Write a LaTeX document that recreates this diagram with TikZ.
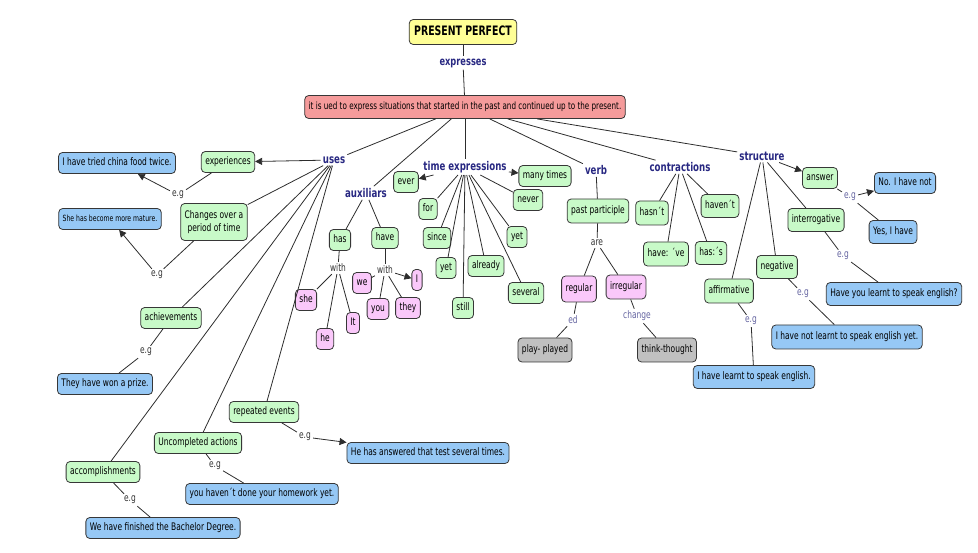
\documentclass[tikz,border=0pt]{standalone}
\usepackage{fontspec}
\setmainfont{DejaVu Sans}[FakeStretch=0.72]
\usetikzlibrary{arrows.meta}
\definecolor{gfill}{RGB}{200,250,200}
\definecolor{bfill}{RGB}{150,200,245}
\definecolor{pfill}{RGB}{250,200,250}
\definecolor{grfill}{RGB}{192,192,192}
\definecolor{rfill}{RGB}{245,155,155}
\definecolor{yfill}{RGB}{255,255,150}
\definecolor{bordercol}{RGB}{55,55,55}
\definecolor{linecol}{RGB}{45,45,45}
\definecolor{navy}{RGB}{40,40,130}
\definecolor{purp}{RGB}{100,100,160}
\begin{document}
\begin{tikzpicture}[x=1pt,y=-1pt,
  box/.style={draw=bordercol, line width=0.8pt, rounded corners=4pt, inner xsep=4pt, inner ysep=0pt,
    minimum height=21pt, font=\fontsize{10.4}{12.5}\selectfont, text height=7.8pt, text depth=2pt},
  g/.style={box, fill=gfill},
  b/.style={box, fill=bfill},
  p/.style={box, fill=pfill},
  gr/.style={box, fill=grfill},
  cl/.style={font=\fontsize{12}{14}\selectfont\bfseries, text=navy, inner sep=2pt},
  ll/.style={font=\fontsize{10.4}{12.5}\selectfont, text=black!80, inner sep=2pt},
  pl/.style={ll, text=purp},
  ln/.style={draw=linecol, line width=0.8pt},
  arr/.style={ln, -{Triangle[length=7pt,width=7pt]}}]
\useasboundingbox (0,0) rectangle (978,553);

% top
\node[box, fill=yfill, font=\fontsize{13}{15}\selectfont\bfseries, minimum height=25pt, inner xsep=5pt, text height=9.5pt] (pp) at (463,32) {PRESENT PERFECT};
\node[cl, font=\fontsize{11.5}{13}\selectfont\bfseries] (expr) at (463,63) {expresses};
\node[box, fill=rfill, font=\fontsize{10}{12}\selectfont, minimum height=23pt] (main) at (465,107) {it is ued to express situations that started in the past and continued up to the present.};

% uses
\node[cl] (uses) at (334,160) {uses};
\node[g] (exp) at (228,162) {experiences};
\node[b] (tried) at (117,163) {I have tried china food twice.};
\node[ll] (eg1) at (178,195) {e.g};
\node[g, align=center, minimum height=37pt, text height=, text depth=] (chg) at (214,222) {Changes over a\\period of time};
\node[b, font=\fontsize{8.5}{10}\selectfont] (mature) at (110,219) {She has become more mature.};
\node[ll] (eg2) at (157,275) {e.g};
\node[g] (ach) at (171,318) {achievements};
\node[ll] (eg3) at (146,352) {e.g};
\node[b] (prize) at (105,384) {They have won a prize.};
\node[g] (rep) at (264,412) {repeated events};
\node[ll] (eg4) at (305,437) {e.g};
\node[b] (ans) at (428,453) {He has answered that test several times.};
\node[g] (unc) at (198,443) {Uncompleted actions};
\node[ll] (eg5) at (215,466) {e.g};
\node[b] (hw) at (262,494) {you haven´t done your homework yet.};
\node[g] (acc) at (103,472) {accomplishments};
\node[ll] (eg6) at (130,500) {e.g};
\node[b] (bach) at (163,528) {We have finished the Bachelor Degree.};

% auxiliars
\node[cl] (aux) at (366,193) {auxiliars};
\node[g] (has) at (340,240) {has};
\node[g] (have) at (385,238) {have};
\node[ll] (w1) at (338,268) {with};
\node[ll] (w2) at (385,270) {with};
\node[p] (she) at (306,300) {she};
\node[p] (he) at (325,339) {he};
\node[p] (it) at (353,323) {It};
\node[p] (we) at (362,283) {we};
\node[p] (you) at (378,309) {you};
\node[p] (they) at (408,308) {they};
\node[p] (I) at (417,280) {I};

% time expressions
\node[cl] (te) at (465,167) {time expressions};
\node[g] (ever) at (406,182) {ever};
\node[g] (many) at (545,176) {many times};
\node[g] (never) at (528,200) {never};
\node[g] (for) at (428,209) {for};
\node[g] (since) at (437,238) {since};
\node[g] (yet1) at (446,268) {yet};
\node[g] (still) at (463,308) {still};
\node[g] (already) at (486,266) {already};
\node[g] (yet2) at (517,237) {yet};
\node[g] (sev) at (526,293) {several};

% verb
\node[cl] (verb) at (596,170) {verb};
\node[g, minimum height=24pt] (ppart) at (598,211) {past participle};
\node[ll] (are) at (597,243) {are};
\node[p, minimum height=26pt] (reg) at (579,289) {regular};
\node[p, minimum height=24pt] (irr) at (626,287) {irregular};
\node[pl] (ed) at (573,320) {ed};
\node[pl] (chgl) at (637,316) {change};
\node[gr, minimum height=24pt] (play) at (545,350) {play- played};
\node[gr, minimum height=24pt] (think) at (667,350) {think-thought};

% contractions
\node[cl] (con) at (680,167) {contractions};
\node[g, minimum height=24pt] (hasnt) at (652,213) {hasn´t};
\node[g, minimum height=23pt] (havent) at (720,206) {haven´t};
\node[g, minimum height=24pt] (havve) at (666,254) {have: ´ve};
\node[g, minimum height=23pt] (hass) at (711,253) {has:´s};

% structure
\node[cl] (str) at (762,156) {structure};
\node[g] (answer) at (820,178) {answer};
\node[pl] (eg7) at (850,197) {e.g};
\node[b] (no) at (905,183) {No. I have not};
\node[b, minimum height=23pt] (yes) at (893,232) {Yes, I have};
\node[g, minimum height=23pt] (inter) at (816,220) {interrogative};
\node[pl] (eg8) at (843,256) {e.g};
\node[b, minimum height=23pt] (q) at (894,294) {Have you learnt to speak english?};
\node[g, minimum height=23pt] (neg) at (777,267) {negative};
\node[pl] (eg9) at (803,294) {e.g};
\node[b, minimum height=24pt] (negs) at (847,337) {I have not learnt to speak english yet.};
\node[g, minimum height=24pt] (aff) at (729,291) {affirmative};
\node[pl] (eg10) at (751,321) {e.g};
\node[b, minimum height=23pt] (affs) at (754,377) {I have learnt to speak english.};

% connectors
\draw[ln] (pp) -- (expr);
\draw[ln] (expr) -- (main);
\foreach \t in {uses,aux,te,verb,con,str} \draw[ln] (main) -- (\t);

\draw[arr] (uses) -- (exp);
\foreach \t in {chg,ach,acc,unc,rep} \draw[ln] (uses) -- (\t);
\draw[ln] (exp) -- (eg1); \draw[arr] (eg1) -- (tried);
\draw[ln] (chg) -- (eg2); \draw[arr] (eg2) -- (mature);
\draw[ln] (ach) -- (eg3); \draw[ln] (eg3) -- (prize);
\draw[ln] (rep) -- (eg4); \draw[arr] (eg4) -- (ans);
\draw[ln] (unc) -- (eg5); \draw[ln] (eg5) -- (hw);
\draw[ln] (acc) -- (eg6); \draw[ln] (eg6) -- (bach);

\draw[ln] (aux) -- (has); \draw[ln] (aux) -- (have);
\draw[ln] (has) -- (w1); \draw[ln] (have) -- (w2);
\foreach \t in {she,he,it} \draw[ln] (w1) -- (\t);
\foreach \t in {we,you,they} \draw[ln] (w2) -- (\t);
\draw[arr] (w2) -- (I);

\draw[arr] (te) -- (ever);
\draw[arr] (te) -- (many);
\foreach \t in {never,for,since,yet1,still,already,yet2,sev} \draw[ln] (te) -- (\t);

\draw[ln] (verb) -- (ppart);
\draw[ln] (ppart) -- (are);
\draw[ln] (are) -- (reg); \draw[ln] (are) -- (irr);
\draw[ln] (reg) -- (ed); \draw[ln] (ed) -- (play);
\draw[ln] (irr) -- (chgl); \draw[ln] (chgl) -- (think);

\foreach \t in {hasnt,havent,havve,hass} \draw[ln] (con) -- (\t);

\draw[arr] (str) -- (answer);
\foreach \t in {inter,neg,aff} \draw[ln] (str) -- (\t);
\draw[ln] (answer) -- (eg7); \draw[arr] (eg7) -- (no); \draw[ln] (eg7) -- (yes);
\draw[ln] (inter) -- (eg8); \draw[ln] (eg8) -- (q);
\draw[ln] (neg) -- (eg9); \draw[ln] (eg9) -- (negs);
\draw[ln] (aff) -- (eg10); \draw[ln] (eg10) -- (affs);
\end{tikzpicture}
\end{document}
